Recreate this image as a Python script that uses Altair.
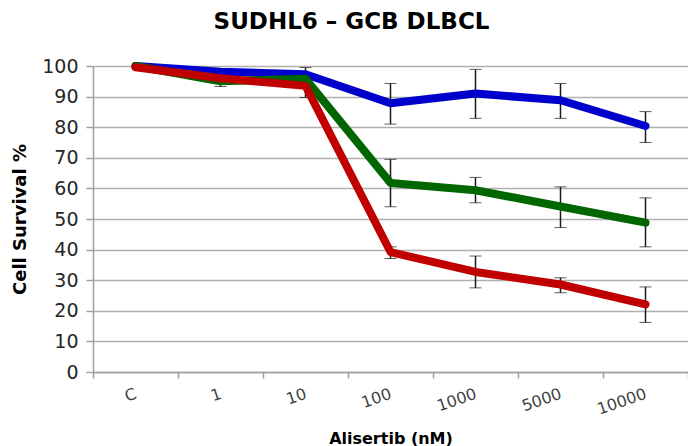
import altair as alt
import pandas as pd

categories = ["C", "1", "10", "100", "1000", "5000", "10000"]

blue = [100.0, 98.1, 97.3, 87.8, 91.0, 88.8, 80.4]
green = [100.0, 95.0, 95.8, 61.8, 59.4, 54.1, 48.8]
red = [99.6, 96.0, 93.5, 39.2, 32.7, 28.6, 22.1]

blue_lo = [None, None, None, 81.0, 82.9, 82.9, 75.0]
blue_hi = [None, None, None, 94.3, 98.9, 94.3, 85.1]
green_lo = [None, 93.3, 89.7, 54.0, 55.3, 47.2, 40.9]
green_hi = [None, 96.7, 99.5, 69.5, 63.6, 60.5, 56.9]
red_lo = [None, 94.4, None, 37.1, 27.5, 25.9, 16.2]
red_hi = [None, 97.6, None, 40.9, 37.9, 30.8, 27.8]

series_names = ["blue", "green", "red"]
series_colors = ["#0000CC", "#006600", "#C00000"]

rows = []
for name, vals, lo, hi in [
    ("blue", blue, blue_lo, blue_hi),
    ("green", green, green_lo, green_hi),
    ("red", red, red_lo, red_hi),
]:
    for c, v, l, h in zip(categories, vals, lo, hi):
        rows.append({"dose": c, "series": name, "value": v, "lo": l, "hi": h})
df = pd.DataFrame(rows)

W, H = 595, 306

x_enc = alt.X(
    "dose:N",
    sort=categories,
    scale=alt.Scale(domain=categories, paddingInner=0, paddingOuter=0),
    axis=alt.Axis(
        title="Alisertib  (nM)",
        titleFont="DejaVu Sans",
        titleFontWeight="bold",
        titleFontSize=16,
        titleColor="#000000",
        titleY=71,
        titleBaseline="alphabetic",
        labelFont="DejaVu Sans",
        labelFontSize=16,
        labelColor="#404040",
        labelAngle=-19,
        labelAlign="right",
        labelBaseline="middle",
        labelPadding=15,
        tickBand="extent",
        tickSize=6,
        tickColor="#a0a0a0",
        tickWidth=1.5,
        domainColor="#a0a0a0",
        domainWidth=1.5,
        grid=False,
    ),
)

y_scale = alt.Scale(domain=[0, 100], nice=False, zero=True)
y_axis = alt.Axis(
    title="Cell Survival %",
    titleFont="DejaVu Sans",
    titleFontWeight="bold",
    titleFontSize=18,
    titleColor="#000000",
    titleAngle=-90,
    titleX=-73,
    titleY=H / 2,
    titleAlign="center",
    titleBaseline="middle",
    values=list(range(0, 101, 10)),
    labelFont="DejaVu Sans",
    labelFontSize=19,
    labelColor="#262626",
    labelPadding=8,
    tickSize=7,
    tickColor="#a0a0a0",
    tickWidth=1.5,
    domainColor="#a0a0a0",
    domainWidth=1.5,
    grid=True,
    gridColor="#b0b0b0",
    gridWidth=1.5,
)

color_scale = alt.Scale(domain=series_names, range=series_colors)

base = alt.Chart(df)

err = base.transform_filter("datum.lo != null").mark_errorbar(
    ticks=alt.MarkConfig(size=12, color="#1a1a1a", strokeWidth=1.5),
    rule=alt.MarkConfig(color="#1a1a1a", strokeWidth=1.5),
).encode(
    x=x_enc,
    y=alt.Y("lo:Q", scale=y_scale, axis=y_axis),
    y2="hi:Q",
)

layers = [err]
for name in series_names:
    layers.append(
        base.transform_filter(alt.datum.series == name)
        .mark_line(strokeWidth=8, strokeCap="round", strokeJoin="round")
        .encode(
            x=x_enc,
            y=alt.Y("value:Q", scale=y_scale, axis=y_axis),
            color=alt.Color("series:N", scale=color_scale, legend=None),
        )
    )

chart = (
    alt.layer(*layers)
    .properties(
        width=W,
        height=H,
        title=alt.TitleParams(
            "SUDHL6 – GCB DLBCL",
            font="DejaVu Sans",
            fontSize=23,
            fontWeight="bold",
            color="#000000",
            anchor="middle",
            dx=-39,
            offset=23,
        ),
        autosize=alt.AutoSizeParams(type="none"),
        padding={"left": 93, "top": 66, "right": 0, "bottom": 74},
    )
    .configure_view(stroke=None)
    .configure(background="white")
)

chart.save("out.html", embed_options={"renderer": "svg", "actions": False})
